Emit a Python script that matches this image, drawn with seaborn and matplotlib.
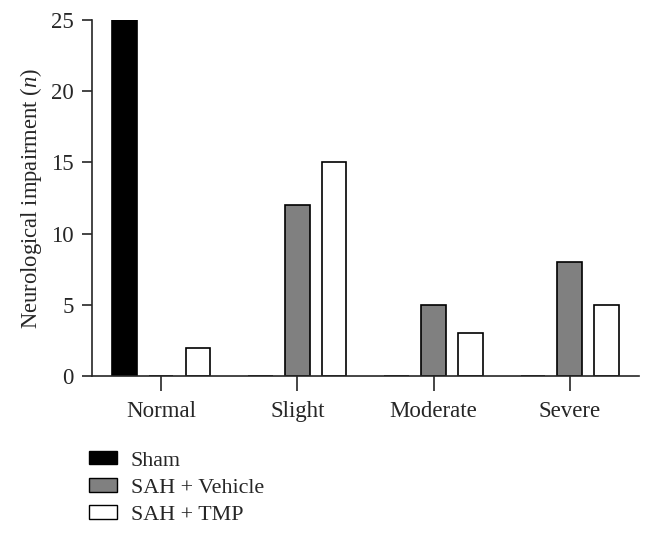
import pandas as pd
import matplotlib
matplotlib.use('Agg')
import matplotlib.pyplot as plt
import seaborn as sns

categories = ['Normal', 'Slight', 'Moderate', 'Severe']
groups = ['Sham', 'SAH + Vehicle', 'SAH + TMP']
sham = [25, 0, 0, 0]
vehicle = [0, 12, 5, 8]
tmp = [2, 15, 3, 5]
colors = ['#000000', '#808080', '#ffffff']

df = pd.DataFrame({
    'category': categories * 3,
    'group': [g for g in groups for _ in categories],
    'n': sham + vehicle + tmp,
})

sns.set_style('ticks')
plt.rcParams['font.family'] = ['Liberation Serif', 'DejaVu Serif']
plt.rcParams['mathtext.fontset'] = 'custom'
plt.rcParams['mathtext.it'] = 'Liberation Serif:italic'
plt.rcParams['mathtext.rm'] = 'Liberation Serif'

fig = plt.figure(figsize=(6.46, 5.34), dpi=100)
ax = fig.add_axes([0.1424, 0.2959, 0.8466, 0.6666])

sns.barplot(data=df, x='category', y='n', hue='group', order=categories,
            hue_order=groups, palette=colors, width=0.81, gap=0.33,
            edgecolor='black', linewidth=1.2, ax=ax, legend=False)

ax.set_xlim(-0.507, 3.507)
ax.set_ylim(0, 25)
ax.set_yticks([0, 5, 10, 15, 20, 25])
ax.set_xlabel('')
ax.set_ylabel('Neurological impairment ($\\it{n}$)', fontsize=16.3, labelpad=5)
ax.tick_params(axis='y', length=7.2, width=1.2, pad=6, labelsize=16.5)
ax.tick_params(axis='x', length=11, width=1.2, pad=7, labelsize=16.5)
for s in ['left', 'bottom']:
    ax.spines[s].set_linewidth(1.2)
sns.despine(ax=ax)

handles = [plt.Rectangle((0, 0), 1, 1, facecolor=c, edgecolor='black', linewidth=1.0)
           for c in colors]
fig.legend(handles, groups, loc='upper left', bbox_to_anchor=(0.138, 0.155),
           frameon=False, fontsize=15.8, handlelength=1.25, handleheight=0.55,
           handletextpad=0.65, labelspacing=0.35, borderpad=0, borderaxespad=0)

fig.savefig('out.png', dpi=100)
